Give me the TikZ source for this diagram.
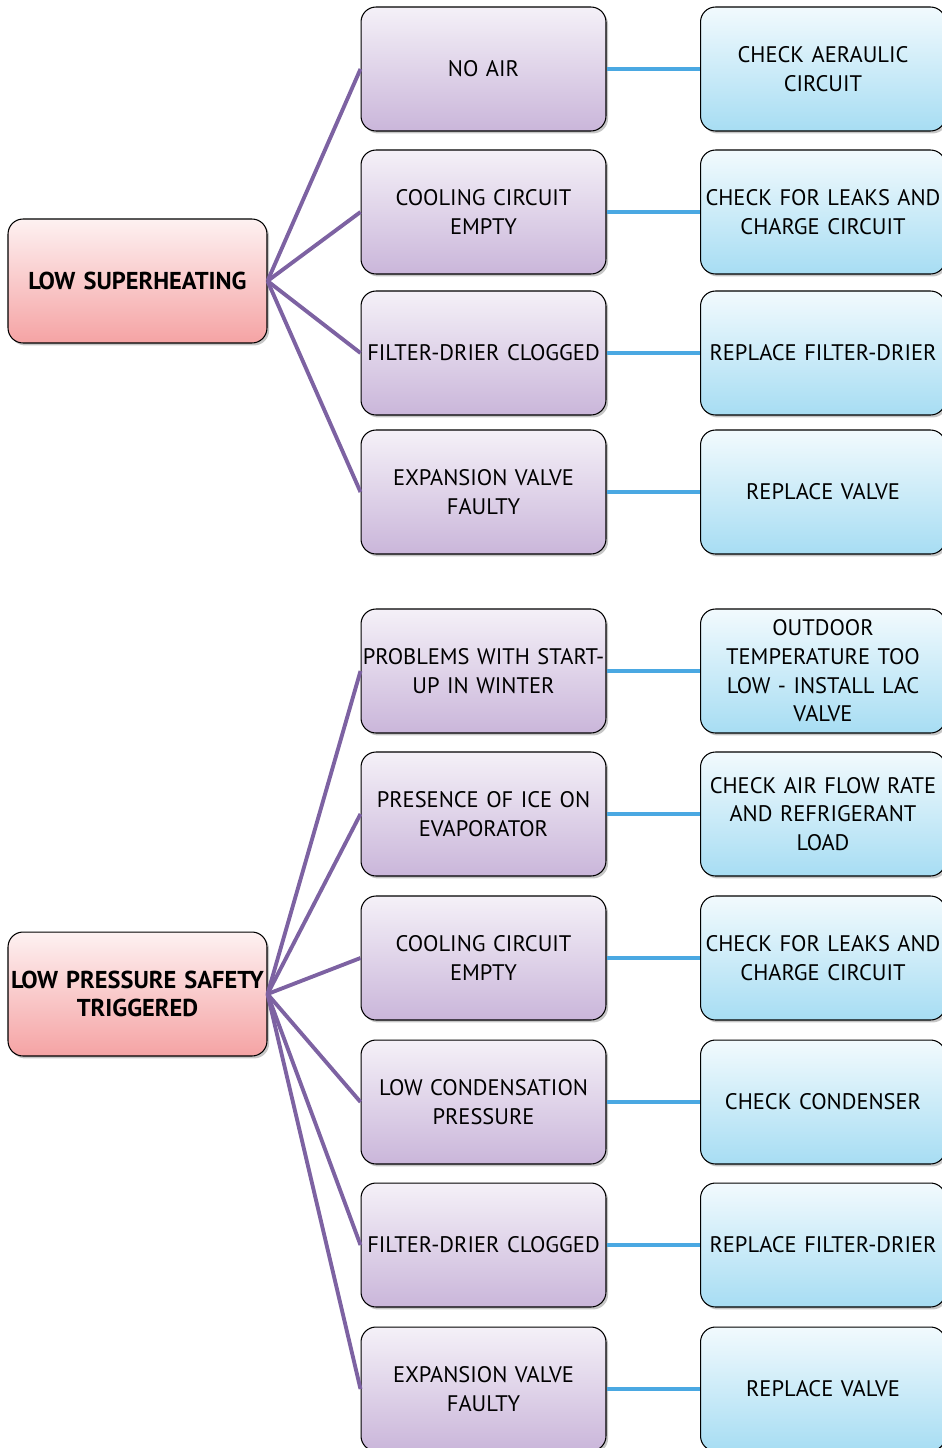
\documentclass[tikz,border=0pt]{standalone}
\usepackage{fontspec}
\setmainfont{PT Sans}
\usetikzlibrary{shadows}

\definecolor{rootpink}{HTML}{F5A3A4}
\definecolor{causeviolet}{HTML}{CAB6DA}
\definecolor{fixblue}{HTML}{A7DDF3}
\definecolor{branchviolet}{HTML}{7D62A2}
\definecolor{linkblue}{HTML}{4AA8E2}

\begin{document}
\begin{tikzpicture}[x=0.02cm, y=-0.02cm,
    box/.style={draw=black, line width=0.6pt, rounded corners=0.3cm,
        minimum height=2.48cm, text width=4.9cm, align=center,
        inner sep=0pt, font=\fontsize{12.8}{16.3}\selectfont,
        drop shadow={shadow xshift=1.2pt, shadow yshift=-1.4pt, opacity=0.45}},
    rootbox/.style={box, minimum width=5.18cm, text width=5.18cm,
        font=\fontsize{13.9}{16.3}\selectfont\bfseries,
        top color=white!85!rootpink, middle color=rootpink, bottom color=rootpink},
    causebox/.style={box, minimum width=4.9cm,
        top color=white!80!causeviolet, middle color=causeviolet, bottom color=causeviolet},
    fixbox/.style={box, minimum width=4.9cm,
        top color=white!85!fixblue, middle color=fixblue, bottom color=fixblue},
    branch/.style={branchviolet, line width=2.2pt},
    link/.style={linkblue, line width=2.6pt}]

    % Seite festlegen
    \useasboundingbox (0,0) rectangle (942,1448);
    \clip (0,0) rectangle (942,1448);

    % Ursachen
    \node[rootbox] (root1) at (137.5,281) {LOW SUPERHEATING};
    \node[rootbox] (root2) at (137.5,994) {LOW PRESSURE SAFETY\\TRIGGERED};

    % Fehler und Abhilfe, Zeile fuer Zeile
    \foreach \y/\cause/\fix/\root [count=\i] in {
        69/NO AIR/CHECK AERAULIC\\CIRCUIT/root1,
        212/COOLING CIRCUIT\\EMPTY/CHECK FOR LEAKS AND\\CHARGE CIRCUIT/root1,
        353/FILTER-DRIER CLOGGED/REPLACE FILTER-DRIER/root1,
        492/EXPANSION VALVE\\FAULTY/REPLACE VALVE/root1,
        671/PROBLEMS WITH START-\\UP IN WINTER/OUTDOOR\\TEMPERATURE TOO\\LOW - INSTALL LAC\\VALVE/root2,
        814/PRESENCE OF ICE ON\\EVAPORATOR/CHECK AIR FLOW RATE\\AND REFRIGERANT\\LOAD/root2,
        958/COOLING CIRCUIT\\EMPTY/CHECK FOR LEAKS AND\\CHARGE CIRCUIT/root2,
        1102/LOW CONDENSATION\\PRESSURE/CHECK CONDENSER/root2,
        1245/FILTER-DRIER CLOGGED/REPLACE FILTER-DRIER/root2,
        1389/EXPANSION VALVE\\FAULTY/REPLACE VALVE/root2}
    {
        \node[causebox] (cause\i) at (483.5,\y) {\cause};
        \node[fixbox] (fix\i) at (823,\y) {\fix};
        \draw[branch] (\root.east) -- (cause\i.west);
        \draw[link] (cause\i.east) -- (fix\i.west);
    }
\end{tikzpicture}
\end{document}
